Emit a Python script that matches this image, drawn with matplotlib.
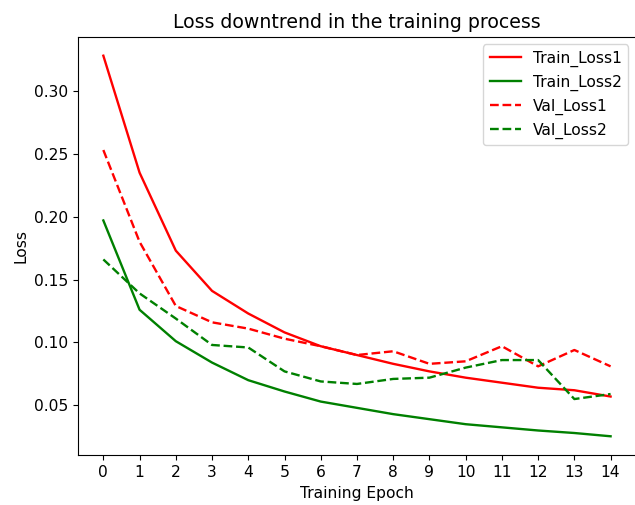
import matplotlib
matplotlib.use("Agg")
import matplotlib.pyplot as plt

epochs = list(range(15))

train_loss1 = [0.328, 0.235, 0.173, 0.141, 0.123, 0.108, 0.097, 0.090, 0.083, 0.077, 0.072, 0.068, 0.064, 0.062, 0.057]
train_loss2 = [0.197, 0.126, 0.101, 0.084, 0.070, 0.061, 0.053, 0.048, 0.043, 0.039, 0.035, 0.0325, 0.030, 0.028, 0.0254]
val_loss1 = [0.253, 0.180, 0.129, 0.116, 0.111, 0.103, 0.097, 0.090, 0.093, 0.083, 0.085, 0.097, 0.081, 0.094, 0.081]
val_loss2 = [0.166, 0.139, 0.119, 0.098, 0.096, 0.077, 0.069, 0.067, 0.071, 0.072, 0.080, 0.086, 0.086, 0.055, 0.059]

# reference looks like a slightly upscaled default-style figure
plt.rcParams['font.size'] = 11.2
plt.rcParams['lines.linewidth'] = 1.7

fig = plt.figure(figsize=(6.35, 5.05), dpi=100)
ax = fig.add_axes([0.1228, 0.0984, 0.8787, 0.829])

ax.plot(epochs, train_loss1, color='red', label='Train_Loss1')
ax.plot(epochs, train_loss2, color='green', label='Train_Loss2')
ax.plot(epochs, val_loss1, color='red', linestyle='--', label='Val_Loss1')
ax.plot(epochs, val_loss2, color='green', linestyle='--', label='Val_Loss2')

ax.set_xticks(epochs)
ax.set_xlabel('Training Epoch')
ax.set_ylabel('Loss')
ax.set_title('Loss downtrend in the training process', fontsize=13.6)
ax.legend(loc='upper right')

fig.savefig('out.png', dpi=100)
